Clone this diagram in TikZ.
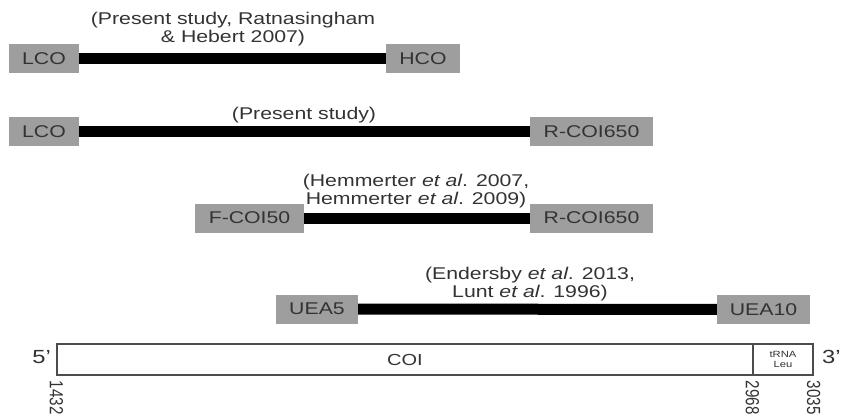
\documentclass[tikz,border=0pt]{standalone}
\usepackage{fontspec}
\setmainfont{Liberation Sans}[FakeStretch=1.25]
\newfontfamily\numfont{Liberation Sans}[FakeStretch=0.8]
\begin{document}
\begin{tikzpicture}[x=1pt,y=-1pt]
  \tikzstyle{primer}=[rectangle,fill=black!38,text=black!80,minimum height=29pt,inner sep=0pt,font=\fontsize{17}{19}\selectfont]
  \tikzstyle{edge} = [draw,line width=11pt,-]
  \tikzstyle{cite}=[text=black!80,align=center,inner sep=0pt,font=\fontsize{17}{17.5}\selectfont]
  \tikzstyle{gene}=[rectangle,draw=black!70,line width=1.2pt,minimum height=31pt,inner sep=0pt]
  \tikzstyle{basepos}=[text=black!80,rotate=-90,anchor=west,inner sep=0pt,font=\numfont\fontsize{19}{21}\selectfont]

  \useasboundingbox (0,0) rectangle (842,414);

    % primer pairs
    \node[primer,minimum width=70pt] (lco1) at (44,58.5) {LCO};
    \node[primer,minimum width=74pt] (hco) at (423,58.5) {HCO};
    \node[primer,minimum width=70pt] (lco2) at (44,131.5) {LCO};
    \node[primer,minimum width=123pt] (rcoi1) at (591.5,131.5) {R-COI650};
    \node[primer,minimum width=109pt] (fcoi) at (249.5,218) {F-COI50};
    \node[primer,minimum width=123pt] (rcoi2) at (591.5,218) {R-COI650};
    \node[primer,minimum width=82pt] (uea5) at (317,309) {UEA5};
    \node[primer,minimum width=93pt] (uea10) at (763.5,309.5) {UEA10};

    \path[edge] (lco1) -- (hco);
    \path[edge] (lco2) -- (rcoi1);
    \path[edge] (fcoi) -- (rcoi2);
    \path[edge] (uea5) -- (uea10);

    % references
    \node[cite] (c1) at (233,29) {(Present study, Ratnasingham\\\& Hebert 2007)};
    \node[cite] (c2) at (304,115) {(Present study)};
    \node[cite] (c3) at (416,191) {(Hemmerter \textit{et al}. 2007,\\Hemmerter \textit{et al}. 2009)};
    \node[cite] (c4) at (530,284) {(Endersby \textit{et al}. 2013,\\Lunt \textit{et al}. 1996)};

    % gene
    \node[gene,minimum width=696pt,font=\fontsize{16}{18}\selectfont,text=black!80] (coi) at (405,359.5) {COI};
    \node[gene,minimum width=60pt,align=center,font=\fontsize{9}{10}\selectfont,text=black!80] (trna) at (783,359.5) {tRNA\\Leu};
    \node[text=black!80,font=\fontsize{19}{21}\selectfont,anchor=east,inner sep=0pt] (p5) at (51,357) {5'};
    \node[text=black!80,font=\fontsize{19}{21}\selectfont,anchor=west,inner sep=0pt] (p3) at (822,357) {3'};
    \node[basepos] (n1) at ([yshift=-5pt]coi.south west) {1432};
    \node[basepos] (n2) at ([yshift=-5pt]trna.south west) {2968};
    \node[basepos] (n3) at ([yshift=-5pt]trna.south east) {3035};
\end{tikzpicture}
\end{document}
